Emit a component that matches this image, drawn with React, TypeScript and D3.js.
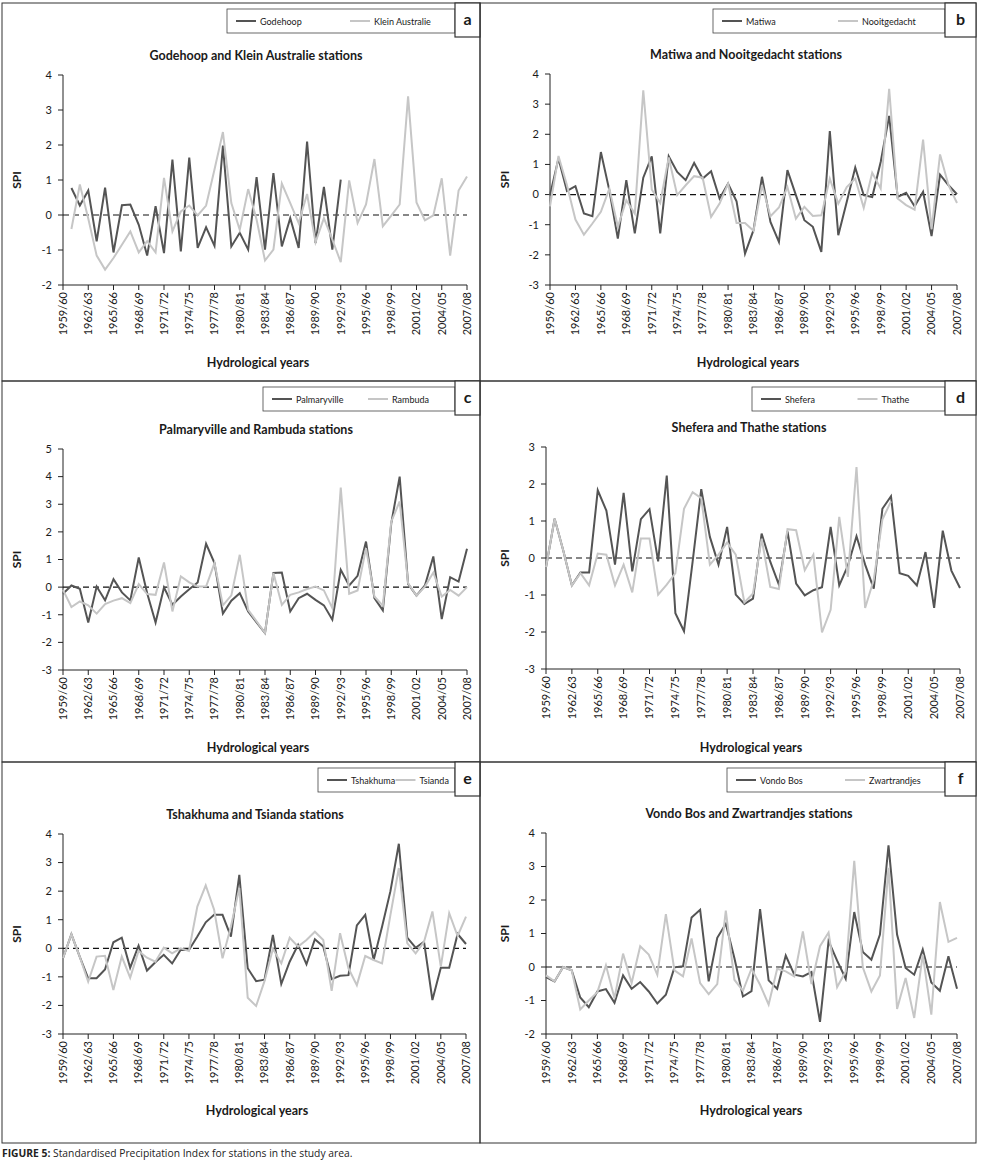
import * as d3 from "d3";
import React from "react";

// hydrological years (categories)
const years = [
  "1959/60", "1960/61", "1961/62", "1962/63", "1963/64", "1964/65", "1965/66",
  "1966/67", "1967/68", "1968/69", "1969/70", "1970/71", "1971/72", "1972/73",
  "1973/74", "1974/75", "1975/76", "1976/77", "1977/78", "1978/79", "1979/80",
  "1980/81", "1981/82", "1982/83", "1983/84", "1984/85", "1985/86", "1986/87",
  "1987/88", "1988/89", "1989/90", "1990/91", "1991/92", "1992/93", "1993/94",
  "1994/95", "1995/96", "1996/97", "1997/98", "1998/99", "1999/00", "2000/01",
  "2001/02", "2002/03", "2003/04", "2004/05", "2005/06", "2006/07", "2007/08",
];

type V = number | null;
const _ = null;

const godehoop: V[] = [
  _, 0.77, 0.27, 0.7, -0.75, 0.78, -1.07, 0.28, 0.3, -0.28, -1.16, 0.25, -1.09,
  1.58, -1.04, 1.64, -0.94, -0.35, -0.88, 1.98, -0.9, -0.51, -0.99, 1.08, -0.99,
  1.2, -0.9, -0.09, -0.94, 2.1, -0.8, 0.8, -0.99, 1.01,
  _, _, _, _, _, _, _, _, _, _, _, _, _, _, _,
];
const kleinAustralie: V[] = [
  _, -0.4, 0.87, -0.1, -1.16, -1.56, -1.23, -0.85, -0.47, -1.07, -0.75, -1.07,
  1.06, -0.47, 0.1, 0.27, -0.01, 0.27, 1.3, 2.37, 0.34, -0.42, 0.74, -0.13, -1.3,
  -0.99, 0.9, 0.34, -0.23, 0.6, -0.78, -0.09, -0.7, -1.35, 0.99, -0.23, 0.3, 1.6,
  -0.32, -0.02, 0.3, 3.39, 0.36, -0.15, -0.01, 1.05, -1.16, 0.7, 1.1,
];
const matiwa: V[] = [
  -0.02, 1.2, 0.12, 0.28, -0.63, -0.72, 1.41, 0.14, -1.46, 0.48, -1.29, 0.56,
  1.27, -1.29, 1.27, 0.75, 0.48, 1.05, 0.53, 0.77, -0.13, 0.36, -0.22, -1.96,
  -1.18, 0.59, -0.91, -1.57, 0.81, -0.02, -0.85, -1.07, -1.9, 2.11, -1.35, -0.24,
  0.9, -0.02, -0.08, 1.08, 2.61, -0.08, 0.06, -0.39, 0.09, -1.38, 0.66, 0.31, 0.01,
];
const nooitgedacht: V[] = [
  -0.39, 1.28, 0.31, -0.83, -1.33, -0.96, -0.57, 0.2, -1.07, -0.19, -0.63, 3.46,
  0.17, -0.28, 1.23, -0.02, 0.31, 0.61, 0.56, -0.74, -0.3, 0.36, -0.94, -0.94,
  -1.2, 0.31, -0.72, -0.43, 0.25, -0.8, -0.41, -0.71, -0.69, 0.53, -0.3, 0.25,
  0.53, -0.44, 0.72, 0.2, 3.51, -0.13, -0.35, -0.5, 1.82, -1.15, 1.33, 0.31, -0.28,
];
const palmaryville: V[] = [
  -0.24, 0.06, -0.06, -1.28, 0.02, -0.48, 0.29, -0.19, -0.48, 1.07, -0.22, -1.28,
  -0.01, -0.64, -0.34, -0.08, 0.17, 1.57, 0.87, -0.96, -0.49, -0.22, -0.88, -1.28,
  -1.66, 0.51, 0.53, -0.88, -0.4, -0.24, -0.46, -0.66, -1.18, 0.63, 0.06, 0.41,
  1.65, -0.4, -0.84, 2.31, 4.0, 0.12, -0.31, 0.06, 1.11, -1.16, 0.36, 0.2, 1.39,
];
const rambuda: V[] = [
  -0.1, -0.72, -0.52, -0.66, -0.96, -0.61, -0.49, -0.4, -0.58, 0.11, -0.25, -0.28,
  0.89, -0.88, 0.39, 0.17, 0.02, 0.02, 0.87, -0.66, -0.3, 1.17, -0.82, -1.24,
  -1.66, 0.51, -0.64, -0.28, -0.19, -0.07, 0.02, -0.12, -0.76, 3.6, -0.24, -0.12,
  1.41, -0.34, -0.67, 2.37, 3.1, 0.14, -0.31, 0.02, 0.53, -0.34, -0.1, -0.31, 0.0,
];
const shefera: V[] = [
  -0.25, 1.06, 0.2, -0.74, -0.39, -0.39, 1.83, 1.28, -0.18, 1.76, -0.36, 1.05,
  1.32, -0.09, 2.23, -1.49, -1.98, -0.1, 1.86, 0.57, -0.18, 0.84, -0.99, -1.24,
  -1.1, 0.66, -0.1, -0.72, 0.72, -0.69, -1.01, -0.87, -0.79, 0.84, -0.74, -0.21,
  0.59, -0.18, -0.83, 1.33, 1.67, -0.41, -0.48, -0.74, 0.16, -1.35, 0.74, -0.34, -0.81,
];
const thathe: V[] = [
  -0.25, 1.06, 0.2, -0.74, -0.41, -0.74, 0.12, 0.09, -0.74, -0.18, -0.93, 0.53,
  0.53, -0.99, -0.72, -0.41, 1.33, 1.78, 1.62, -0.18, 0.09, 0.42, 0.09, -1.2,
  -0.96, 0.52, -0.78, -0.84, 0.78, 0.75, -0.33, 0.09, -2.01, -1.4, 1.11, -0.51,
  2.46, -1.35, -0.59, 1.04, 1.53, _, _, _, _, _, _, _, _,
];
const tshakhuma: V[] = [
  -0.35, 0.49, -0.3, -1.05, -1.05, -0.74, 0.21, 0.37, -0.68, 0.09, -0.78, -0.49,
  -0.23, -0.53, -0.06, -0.06, 0.41, 0.91, 1.17, 1.17, 0.41, 2.57, -0.7, -1.15,
  -1.1, 0.47, -1.25, -0.47, 0.12, -0.56, 0.32, 0.06, -1.08, -0.96, -0.94, 0.8,
  1.17, -0.41, 0.75, 2.0, 3.66, 0.37, 0.02, 0.23, -1.81, -0.68, -0.68, 0.5, 0.15,
];
const tsianda: V[] = [
  -0.35, 0.49, -0.3, -1.17, -0.29, -0.26, -1.46, -0.29, -1.03, -0.09, -0.33, -0.47,
  0.02, -0.18, 0.0, -0.09, 1.46, 2.2, 1.35, -0.35, 0.76, 2.11, -1.73, -2.02,
  -1.15, -0.02, -0.53, 0.37, 0.06, 0.29, 0.58, 0.29, -1.49, 0.53, -0.7, -1.29,
  -0.27, -0.41, -0.53, 1.17, 2.81, 0.18, -0.18, 0.23, 1.29, -0.64, 1.23, 0.43, 1.11,
];
const vondoBos: V[] = [
  -0.3, -0.43, 0.0, -0.1, -0.91, -1.2, -0.73, -0.66, -1.07, -0.25, -0.65, -0.45,
  -0.73, -1.09, -0.83, -0.01, 0.02, 1.48, 1.71, -0.43, 0.87, 1.29, 0.27, -0.88,
  -0.72, 1.73, -0.4, -0.65, 0.34, -0.23, -0.28, -0.15, -1.64, 0.77, 0.19, -0.35,
  1.64, 0.45, 0.22, 0.97, 3.63, 0.97, -0.03, -0.23, 0.52, -0.46, -0.71, 0.32, -0.65,
];
const zwartrandjes: V[] = [
  -0.25, -0.43, 0.0, -0.1, -1.27, -1.0, -0.75, 0.05, -0.93, 0.4, -0.48, 0.62,
  0.37, -0.23, 1.58, -0.1, -0.28, 0.85, -0.48, -0.81, -0.51, 1.68, -0.38, -0.71,
  -0.05, -0.53, -1.12, -0.05, -0.13, -0.28, 1.06, -0.51, 0.62, 1.03, -0.6, -0.13,
  3.17, -0.01, -0.73, -0.25, 2.96, -1.25, -0.33, -1.52, 0.37, -1.42, 1.94, 0.75, 0.87,
];

const DARK = "#545454";
const LIGHT = "#c6c6c6";
const FONT = "Lato, 'Open Sans', sans-serif";

interface PanelCfg {
  letter: string;
  title: string;
  names: [string, string];
  series: [V[], V[]];
  yMin: number;
  yMax: number;
  frame: [number, number, number, number]; // x, y, w, h
  plot: [number, number, number, number]; // x0, x1, yTop, yBottom
  titleX: number;
  spiX: number;
  xLabelY: number;
  legend: [number, number]; // left, right
}

const panels: PanelCfg[] = [
  {
    letter: "a", title: "Godehoop and Klein Australie stations",
    names: ["Godehoop", "Klein Australie"], series: [godehoop, kleinAustralie],
    yMin: -2, yMax: 4, frame: [2, 3, 478, 378], plot: [63, 467, 75, 285],
    titleX: 256, spiX: 21, xLabelY: 367, legend: [227, 455],
  },
  {
    letter: "b", title: "Matiwa and Nooitgedacht stations",
    names: ["Matiwa", "Nooitgedacht"], series: [matiwa, nooitgedacht],
    yMin: -3, yMax: 4, frame: [480, 3, 496, 378], plot: [550, 957, 74, 285],
    titleX: 746, spiX: 509, xLabelY: 367, legend: [713, 945],
  },
  {
    letter: "c", title: "Palmaryville and Rambuda stations",
    names: ["Palmaryville", "Rambuda"], series: [palmaryville, rambuda],
    yMin: -3, yMax: 5, frame: [2, 381, 478, 381], plot: [63, 467, 449, 670],
    titleX: 256, spiX: 21, xLabelY: 752, legend: [263, 455],
  },
  {
    letter: "d", title: "Shefera and Thathe stations",
    names: ["Shefera", "Thathe"], series: [shefera, thathe],
    yMin: -3, yMax: 3, frame: [480, 381, 496, 381], plot: [546, 960, 447, 669],
    titleX: 749, spiX: 509, xLabelY: 752, legend: [752, 945],
  },
  {
    letter: "e", title: "Tshakhuma and Tsianda stations",
    names: ["Tshakhuma", "Tsianda"], series: [tshakhuma, tsianda],
    yMin: -3, yMax: 4, frame: [2, 762, 478, 381], plot: [63, 466, 834, 1034],
    titleX: 255, spiX: 21, xLabelY: 1115, legend: [318, 455],
  },
  {
    letter: "f", title: "Vondo Bos and Zwartrandjes stations",
    names: ["Vondo Bos", "Zwartrandjes"], series: [vondoBos, zwartrandjes],
    yMin: -2, yMax: 4, frame: [480, 762, 496, 381], plot: [546, 957, 833, 1034],
    titleX: 749, spiX: 509, xLabelY: 1115, legend: [727, 945],
  },
];

function Panel({ p }: { p: PanelCfg }) {
  const [fx, fy, fw, fh] = p.frame;
  const [x0, x1, yTop, yBottom] = p.plot;
  const x = d3.scalePoint<string>().domain(years).range([x0, x1]);
  const y = d3.scaleLinear().domain([p.yMin, p.yMax]).range([yBottom, yTop]);
  const line = d3
    .line<V>()
    .defined((d) => d != null)
    .x((_d, i) => x(years[i]) as number)
    .y((d) => y(d as number));
  const yTicks = y.ticks(p.yMax - p.yMin);
  const xTicks = years.filter((_d, i) => i % 3 === 0);
  const colors = [DARK, LIGHT];
  const [lx, lr] = p.legend;
  const share = (lr - lx) / 2;
  const ly = fy + 6;

  return (
    <g fontFamily={FONT} fill="#1a1a1a">
      <rect x={fx} y={fy} width={fw} height={fh} fill="none" stroke="#333" strokeWidth={1} />
      {/* legend */}
      <rect x={lx} y={ly} width={lr - lx} height={24} fill="#fff" stroke="#444" strokeWidth={0.8} />
      {p.names.map((n, k) => (
        <g key={n}>
          <line x1={lx + share * k + 9} x2={lx + share * k + 29} y1={ly + 12} y2={ly + 12}
            stroke={colors[k]} strokeWidth={2} />
          <text x={lx + share * k + 33} y={ly + 15.5} fontSize={9}>{n}</text>
        </g>
      ))}
      <rect x={lr} y={fy} width={fx + fw - lr} height={34} fill="#fff" stroke="#333" strokeWidth={1.2} />
      <text x={(lr + fx + fw) / 2} y={fy + 22} fontSize={16} fontWeight="bold" textAnchor="middle">
        {p.letter}
      </text>
      {/* title */}
      <text x={p.titleX} y={yTop - 15} fontSize={12.5} fontWeight="bold" textAnchor="middle">
        {p.title}
      </text>
      {/* y axis */}
      <line x1={x0} x2={x0} y1={yTop} y2={yBottom} stroke="#222" />
      {yTicks.map((t) => (
        <g key={t}>
          <line x1={x0 - 5} x2={x0} y1={y(t)} y2={y(t)} stroke="#222" />
          <text x={x0 - 11} y={y(t)} dy="0.35em" fontSize={11} textAnchor="end">{t}</text>
        </g>
      ))}
      <text transform={`translate(${p.spiX},${(yTop + yBottom) / 2}) rotate(-90)`}
        fontSize={12} fontWeight="bold" textAnchor="middle">SPI</text>
      {/* x axis */}
      <line x1={x0} x2={x1} y1={yBottom} y2={yBottom} stroke="#222" />
      {xTicks.map((t) => (
        <g key={t}>
          <line x1={x(t)} x2={x(t)} y1={yBottom} y2={yBottom + 5} stroke="#222" />
          <text transform={`translate(${x(t)},${yBottom + 7}) rotate(-90)`} dy="0.35em"
            fontSize={11} textAnchor="end">{t}</text>
        </g>
      ))}
      <text x={p.titleX + 2} y={p.xLabelY} fontSize={12.5} fontWeight="bold" textAnchor="middle">
        Hydrological years
      </text>
      {/* zero line */}
      <line x1={x0} x2={x1} y1={y(0)} y2={y(0)} stroke="#111" strokeWidth={1.2} strokeDasharray="6,4" />
      {p.series.map((s, k) => (
        <path key={k} d={line(s) ?? ""} fill="none" stroke={colors[k]} strokeWidth={2}
          strokeLinejoin="miter" />
      ))}
    </g>
  );
}

export default function App() {
  return (
    <div style={{ position: "absolute", left: 0, top: 0 }}>
      <svg width={987} height={1160} style={{ display: "block", background: "#fff" }}>
        {panels.map((p) => (
          <Panel key={p.letter} p={p} />
        ))}
        <text x={2} y={1157} fontFamily="'Open Sans', sans-serif" fontSize={10.3} fill="#222">
          <tspan fontWeight="bold">FIGURE 5:</tspan> Standardised Precipitation Index for stations in the study area.
        </text>
      </svg>
    </div>
  );
}
